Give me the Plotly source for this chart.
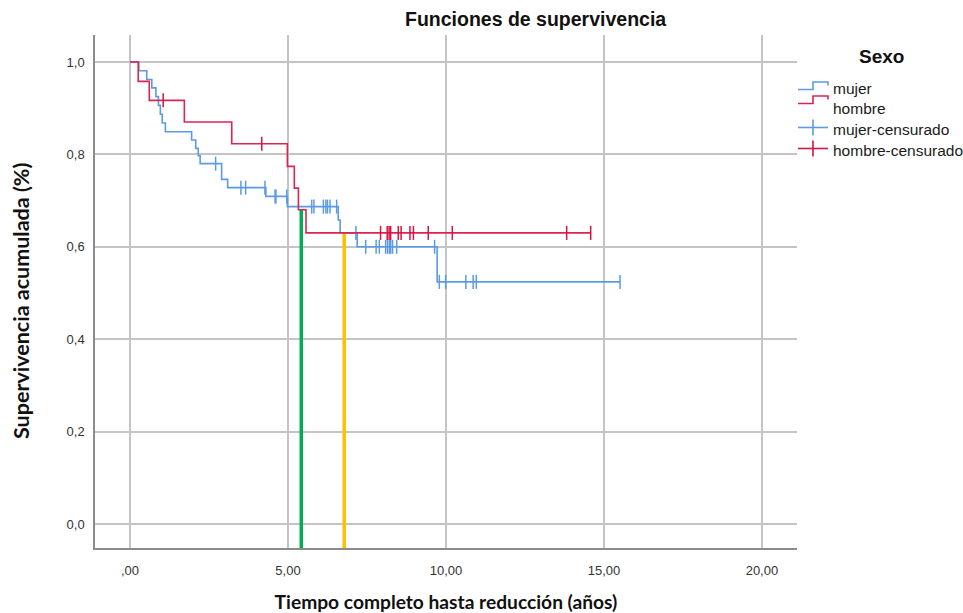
import numpy as np
import plotly.graph_objects as go

# Kaplan-Meier steps: event times (years) and cumulative survival after each event
mujer_t = [0.0, 0.28, 0.53, 0.69, 0.82, 0.90, 0.96, 1.02, 1.12, 1.95, 2.08, 2.16,
           2.22, 2.90, 3.09, 4.30, 4.98, 6.59, 6.65, 7.19, 9.72]
mujer_s = [1.0, 0.981, 0.962, 0.944, 0.925, 0.906, 0.887, 0.868, 0.849, 0.831, 0.813,
           0.797, 0.780, 0.746, 0.728, 0.709, 0.687, 0.658, 0.630, 0.600, 0.524]
mujer_end = 15.51
mujer_cens = [2.71, 3.51, 3.66, 4.27, 4.59, 4.62, 4.96, 5.75, 5.82, 6.12, 6.20, 6.25,
              6.33, 6.54, 7.15, 7.46, 7.79, 7.89, 8.09, 8.15, 8.21, 8.25, 8.31, 8.44,
              9.64, 9.79, 9.99, 10.63, 10.86, 10.96, 15.51]

hombre_t = [0.0, 0.26, 0.61, 1.72, 3.22, 4.98, 5.20, 5.33, 5.57]
hombre_s = [1.0, 0.958, 0.917, 0.870, 0.823, 0.774, 0.727, 0.680, 0.630]
hombre_end = 14.58
hombre_cens = [1.05, 4.17, 7.93, 8.14, 8.20, 8.25, 8.49, 8.58, 8.86, 8.97, 9.44,
               10.20, 13.82, 14.58]

# Median survival reference lines (time, survival level)
mediana_hombre = (5.42, 0.680)
mediana_mujer = (6.78, 0.630)

x_ticks = [0, 5, 10, 15, 20]
x_ticklabels = [",00", "5,00", "10,00", "15,00", "20,00"]
y_ticks = [0.0, 0.2, 0.4, 0.6, 0.8, 1.0]
y_ticklabels = ["0,0", "0,2", "0,4", "0,6", "0,8", "1,0"]

BLUE = "#5b9be3"
RED = "#dc2452"
RED_MARK = "#d41444"
GREEN = "#00b050"
ORANGE = "#ffc000"

X_RANGE = [-1.108, 21.11]
Y_RANGE = [-0.052, 1.0584]


def surv_at(times, surv, t):
    idx = np.searchsorted(np.asarray(times), np.asarray(t), side="right") - 1
    return np.asarray(surv)[idx]


fig = go.Figure()

# median lines (behind the curves)
for (mt, ms), col in [(mediana_hombre, GREEN), (mediana_mujer, ORANGE)]:
    fig.add_trace(go.Scatter(x=[mt, mt], y=[Y_RANGE[0], ms], mode="lines",
                             line=dict(color=col, width=3.5), showlegend=False,
                             hoverinfo="skip"))

for t, s, end, cens, col, mcol in [
    (mujer_t, mujer_s, mujer_end, mujer_cens, BLUE, BLUE),
    (hombre_t, hombre_s, hombre_end, hombre_cens, RED, RED_MARK),
]:
    fig.add_trace(go.Scatter(x=t + [end], y=s + [s[-1]], mode="lines",
                             line=dict(color=col, width=1.6, shape="hv"),
                             showlegend=False))
    fig.add_trace(go.Scatter(x=cens, y=surv_at(t, s, cens), mode="markers",
                             marker=dict(symbol="line-ns", size=10,
                                         line=dict(color=mcol, width=1.5)),
                             showlegend=False))

# ---- plot geometry (pixels) used to place the hand-drawn legend ----
W, H = 963, 613
ML, MR, MT, MB = 95, 166, 35, 65
PW, PH = W - ML - MR, H - MT - MB


def px(x):
    return (x - ML) / PW


def py(y):
    return (H - MB - y) / PH


shapes = []
annotations = []

legend_items = [
    ("mujer", "step", BLUE, 89.5, 88),
    ("hombre", "step", RED, 103.5, 108),
    ("mujer-censurado", "cross", BLUE, 127.5, 129.5),
    ("hombre-censurado", "cross", RED_MARK, 148.5, 150.5),
]
for label, kind, col, yl, yt in legend_items:
    if kind == "step":
        path = (f"M {px(798)},{py(yl)} L {px(813)},{py(yl)} L {px(813)},{py(yl - 7.5)} "
                f"L {px(828)},{py(yl - 7.5)} L {px(828)},{py(yl - 4)}")
        shapes.append(dict(type="path", xref="paper", yref="paper", path=path,
                           line=dict(color=col, width=1.6)))
    else:
        shapes.append(dict(type="line", xref="paper", yref="paper",
                           x0=px(798), x1=px(828), y0=py(yl), y1=py(yl),
                           line=dict(color=col, width=1.6)))
        shapes.append(dict(type="line", xref="paper", yref="paper",
                           x0=px(813), x1=px(813), y0=py(yl - 8), y1=py(yl + 8),
                           line=dict(color=col, width=1.6)))
    annotations.append(dict(text=label, xref="paper", yref="paper", x=px(831), y=py(yt),
                            xanchor="left", yanchor="middle", showarrow=False,
                            font=dict(family="Liberation Sans, Arial", size=15.5,
                                      color="#1a1a1a")))

annotations.append(dict(text="<b>Sexo</b>", xref="paper", yref="paper",
                        x=px(881.5), y=py(56.5), xanchor="center", yanchor="middle",
                        showarrow=False,
                        font=dict(family="Liberation Sans, Arial", size=19, color="#111")))
annotations.append(dict(text="<b>Funciones de supervivencia</b>", xref="paper",
                        yref="paper", x=px(535), y=py(19), xanchor="center",
                        yanchor="middle", showarrow=False,
                        font=dict(family="Liberation Sans, Arial", size=19.5,
                                  color="#111")))
# vertical axis title
annotations.append(dict(text="<b>Supervivencia acumulada (%)</b>", xref="paper",
                        yref="paper", x=px(21), y=py(301), xanchor="center",
                        yanchor="middle", textangle=-90, showarrow=False,
                        font=dict(family="Lato, Liberation Sans", size=21.5,
                                  color="#111")))

fig.update_layout(
    width=W, height=H,
    margin=dict(l=ML, r=MR, t=MT, b=MB, pad=0, autoexpand=False),
    plot_bgcolor="white", paper_bgcolor="white",
    shapes=shapes, annotations=annotations,
    showlegend=False,
)
fig.update_xaxes(range=X_RANGE, tickvals=x_ticks, ticktext=x_ticklabels,
                 automargin=False,
                 showgrid=True, gridcolor="#c4c4c4", gridwidth=1.5, zeroline=False,
                 showline=True, linecolor="#8c8c8c", linewidth=1.5, ticks="",
                 ticklabelstandoff=10,
                 tickfont=dict(family="Liberation Sans, Arial", size=13, color="#333"),
                 title=dict(text="<b>Tiempo completo hasta reducción (años)</b>",
                            font=dict(family="Lato, Liberation Sans", size=19.2,
                                      color="#111"), standoff=23))
fig.update_yaxes(range=Y_RANGE, tickvals=y_ticks, ticktext=y_ticklabels,
                 automargin=False,
                 showgrid=True, gridcolor="#c4c4c4", gridwidth=1.5, zeroline=False,
                 showline=True, linecolor="#8c8c8c", linewidth=1.5, ticks="",
                 ticklabelstandoff=6,
                 tickfont=dict(family="Liberation Sans, Arial", size=13, color="#333"))

fig.write_html("out.html")
